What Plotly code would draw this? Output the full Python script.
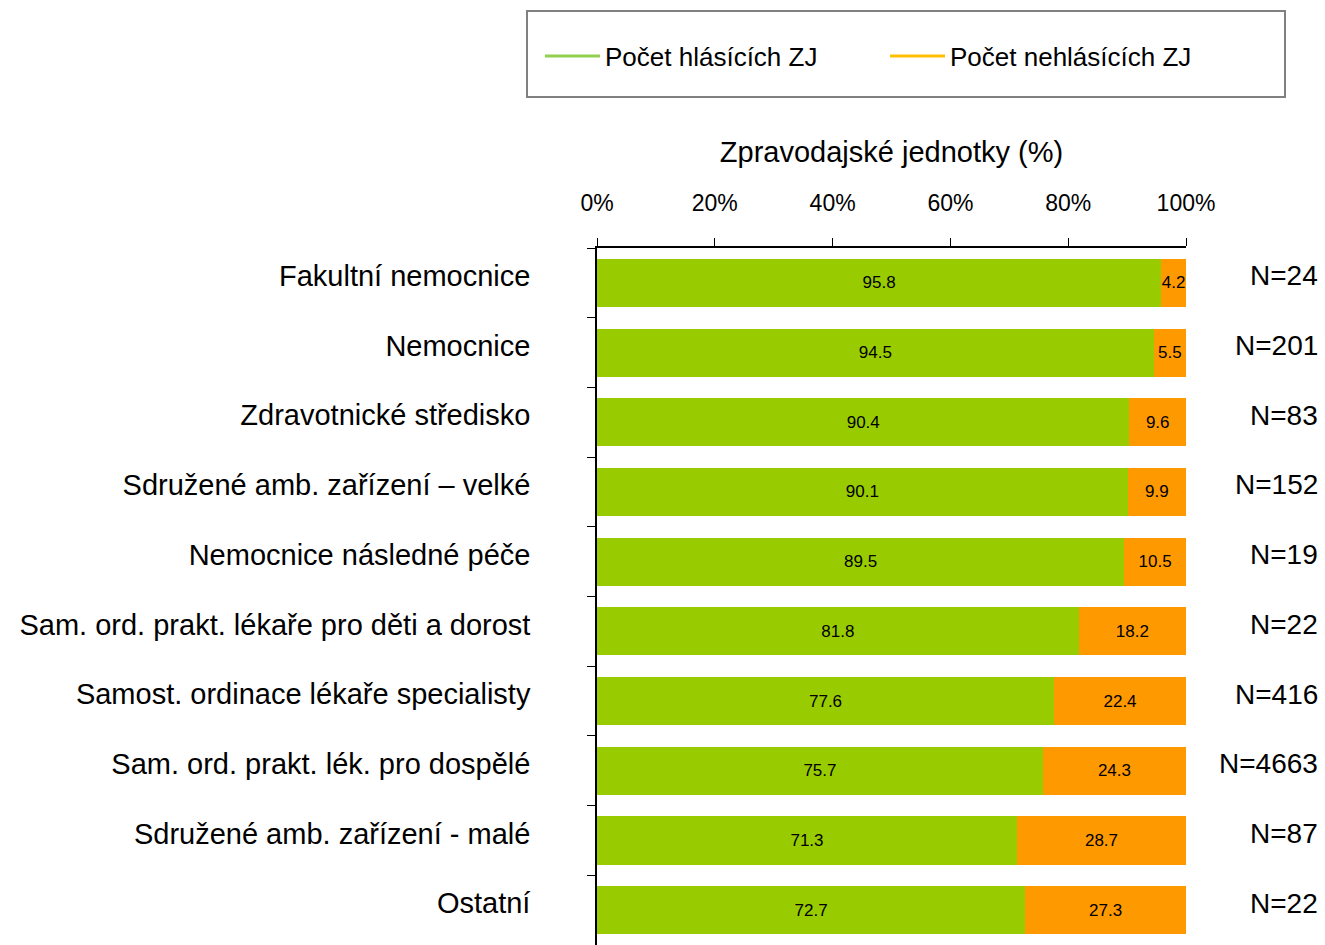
import plotly.graph_objects as go

categories = [
    "Fakultní nemocnice",
    "Nemocnice",
    "Zdravotnické středisko",
    "Sdružené amb. zařízení – velké",
    "Nemocnice následné péče",
    "Sam. ord. prakt. lékaře pro děti a dorost",
    "Samost. ordinace lékaře specialisty",
    "Sam. ord. prakt. lék. pro dospělé",
    "Sdružené amb. zařízení - malé",
    "Ostatní",
]
reporting = [95.8, 94.5, 90.4, 90.1, 89.5, 81.8, 77.6, 75.7, 71.3, 72.7]
not_reporting = [4.2, 5.5, 9.6, 9.9, 10.5, 18.2, 22.4, 24.3, 28.7, 27.3]
counts = [24, 201, 83, 152, 19, 22, 416, 4663, 87, 22]
x_ticks = [0, 20, 40, 60, 80, 100]

W, H = 1325, 945
L, R, T, B = 597, 139, 248, 0
FONT = "Liberation Sans, Arial, sans-serif"

fig = go.Figure()
fig.add_trace(go.Bar(
    y=categories, x=reporting, orientation="h", name="Počet hlásících ZJ",
    marker=dict(color="#99CC00", line_width=0), showlegend=False,
    text=[f"{v:.1f}" for v in reporting], textposition="inside",
    insidetextanchor="middle", constraintext="none", textangle=0,
    textfont=dict(family=FONT, size=17, color="black"),
))
fig.add_trace(go.Bar(
    y=categories, x=not_reporting, orientation="h", name="Počet nehlásících ZJ",
    marker=dict(color="#FF9900", line_width=0), showlegend=False,
    text=[f"{v:.1f}" for v in not_reporting], textposition="inside",
    insidetextanchor="middle", constraintext="none", textangle=0,
    textfont=dict(family=FONT, size=17, color="black"),
))
# legend entries drawn as lines, like the original
fig.add_trace(go.Scatter(x=[None], y=[None], mode="lines", name="Počet hlásících ZJ",
                         line=dict(color="#92D050", width=3), legend="legend"))
fig.add_trace(go.Scatter(x=[None], y=[None], mode="lines", name="Počet nehlásících ZJ",
                         line=dict(color="#FFC000", width=3), legend="legend2"))

pw = W - L - R
ph = H - T - B
for cat, n in zip(categories, counts):
    fig.add_annotation(x=1, xref="paper", y=cat, yref="y", text=f"N={n}",
                       showarrow=False, xanchor="right", xshift=134, yshift=7,
                       font=dict(family=FONT, size=28, color="black"))

# legend frame
fig.add_shape(type="rect", xref="paper", yref="paper",
              x0=(527 - L) / pw, x1=(1285 - L) / pw,
              y0=(H - B - 97) / ph, y1=(H - B - 11) / ph,
              line=dict(color="#808080", width=2), fillcolor="rgba(0,0,0,0)")

leg = dict(xref="container", yref="container", xanchor="left", yanchor="middle",
           y=1 - 56 / H, font=dict(family=FONT, size=26), itemwidth=55,
           bgcolor="rgba(0,0,0,0)", borderwidth=0)

fig.update_layout(
    width=W, height=H,
    margin=dict(l=L, r=R, t=T, b=B, autoexpand=False),
    barmode="stack", bargap=0.31,
    plot_bgcolor="white", paper_bgcolor="white",
    uniformtext=dict(minsize=17, mode="show"),
    font=dict(family=FONT, size=28, color="black"),
    xaxis=dict(
        side="top", range=[0, 100], tickvals=x_ticks,
        ticktext=[f"{v}%" for v in x_ticks],
        ticks="outside", ticklen=8, tickcolor="black", showline=True,
        linecolor="black", linewidth=1.5, showgrid=False, zeroline=False,
        tickfont=dict(family=FONT, size=23), ticklabelstandoff=18,
        title=dict(text="Zpravodajské jednotky (%)", standoff=19,
                   font=dict(family=FONT, size=29)),
    ),
    yaxis=dict(
        autorange="reversed", tickson="boundaries", ticks="outside",
        ticklen=8, tickcolor="black", showline=True, linecolor="black",
        linewidth=1.5, showgrid=False, ticklabelstandoff=59,
        ticklabelshift=7, tickfont=dict(family=FONT, size=29),
    ),
    legend=dict(leg, x=540 / W),
    legend2=dict(leg, x=885 / W),
)

fig.write_html("out.html", config={"displayModeBar": False},
               post_script="document.body.style.margin='0';")
